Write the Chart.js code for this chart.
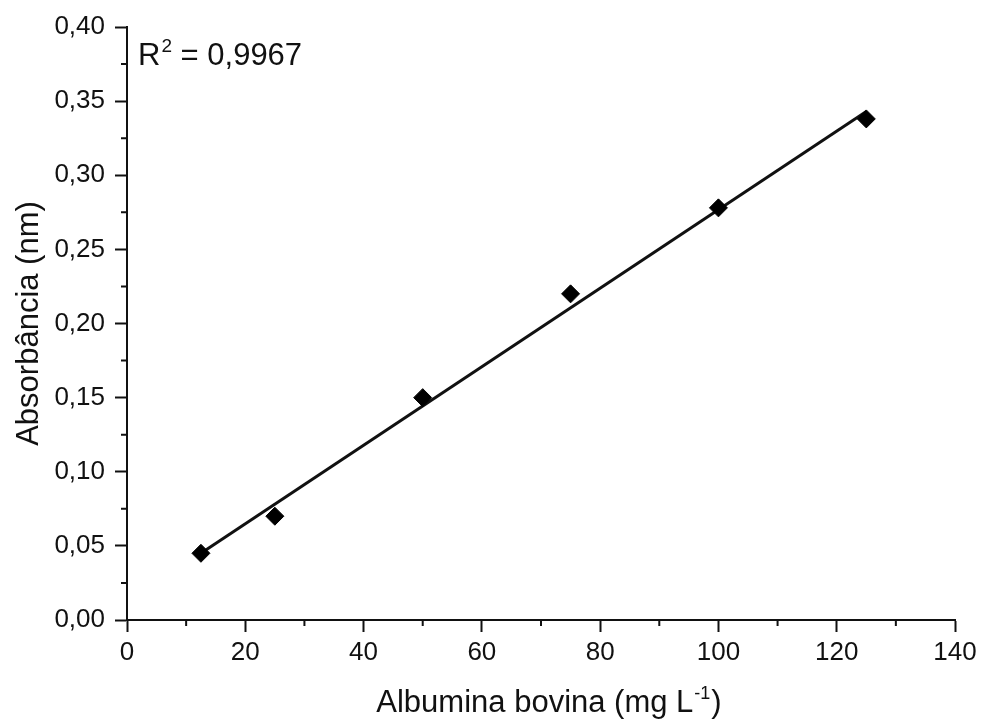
<!DOCTYPE html>
<html>
<head>
<meta charset="utf-8">
<script src="https://cdn.jsdelivr.net/npm/chart.js@4"></script>
<style>
  html, body { margin: 0; padding: 0; background: #fff; }
  #wrap { width: 983px; height: 721px; }
</style>
</head>
<body>
<div id="wrap"><canvas id="curve"></canvas></div>
<script>
// calibration points
const concentrations = [12.5, 25, 50, 75, 100, 125];
const absorbances = [0.045, 0.070, 0.150, 0.220, 0.278, 0.338];
// fitted line end points
const fitX = [12.5, 125];
const fitY = [0.045, 0.343];
const xTicks = [0, 20, 40, 60, 80, 100, 120, 140];
const yTicks = [0, 0.05, 0.10, 0.15, 0.20, 0.25, 0.30, 0.35, 0.40];
const r2Text = '0,9967';

const FONT = '"Liberation Sans", Arial, sans-serif';
const INK = '#111';

// minor ticks half way between the major ones
const minorTicks = {
  id: 'minorTicks',
  afterDraw(chart) {
    const { ctx, scales: { x, y } } = chart;
    ctx.save();
    ctx.strokeStyle = INK;
    ctx.lineWidth = 2;
    ctx.beginPath();
    for (let i = 0; i < xTicks.length - 1; i++) {
      const px = x.getPixelForValue((xTicks[i] + xTicks[i + 1]) / 2);
      ctx.moveTo(px, y.bottom);
      ctx.lineTo(px, y.bottom + 6);
    }
    for (let i = 0; i < yTicks.length - 1; i++) {
      const py = y.getPixelForValue((yTicks[i] + yTicks[i + 1]) / 2);
      ctx.moveTo(x.left, py);
      ctx.lineTo(x.left - 6, py);
    }
    ctx.stroke();
    ctx.restore();
  }
};

// text with superscripts: R^2 and the x axis title
const labels = {
  id: 'labels',
  afterDraw(chart) {
    const { ctx, chartArea: area } = chart;
    ctx.save();
    ctx.fillStyle = INK;
    ctx.textBaseline = 'alphabetic';

    // R^2 = 0,9967
    let px = area.left + 11;
    const base = 65;
    ctx.font = '31px ' + FONT;
    ctx.fillText('R', px, base);
    px += ctx.measureText('R').width + 1;
    ctx.font = '19px ' + FONT;
    ctx.fillText('2', px, base - 13);
    px += ctx.measureText('2').width;
    ctx.font = '31px ' + FONT;
    ctx.fillText(' = ' + r2Text, px, base);

    // Albumina bovina (mg L^-1)
    const partA = 'Albumina bovina (mg L';
    const sup = '-1';
    const partB = ')';
    ctx.font = '31px ' + FONT;
    const wA = ctx.measureText(partA).width;
    const wB = ctx.measureText(partB).width;
    ctx.font = '18px ' + FONT;
    const wS = ctx.measureText(sup).width;
    const total = wA + wS + 2 + wB;
    let tx = (area.left + area.right) / 2 + 8 - total / 2;
    const tb = 712;
    ctx.font = '31px ' + FONT;
    ctx.fillText(partA, tx, tb);
    tx += wA + 1;
    ctx.font = '18px ' + FONT;
    ctx.fillText(sup, tx, tb - 13);
    tx += wS + 1;
    ctx.font = '31px ' + FONT;
    ctx.fillText(partB, tx, tb);
    ctx.restore();
  }
};

new Chart(document.getElementById('curve'), {
  type: 'scatter',
  data: {
    datasets: [
      {
        label: 'fit',
        type: 'line',
        data: fitX.map((v, i) => ({ x: v, y: fitY[i] })),
        borderColor: INK,
        borderWidth: 3,
        pointRadius: 0,
        fill: false,
        order: 2
      },
      {
        label: 'Albumina',
        data: concentrations.map((v, i) => ({ x: v, y: absorbances[i] })),
        pointStyle: 'rectRot',
        pointRadius: 9,
        pointHoverRadius: 9,
        backgroundColor: '#000',
        borderColor: '#000',
        borderWidth: 1,
        order: 1
      }
    ]
  },
  options: {
    responsive: true,
    maintainAspectRatio: false,
    animation: false,
    layout: { padding: { top: 27, right: 28, left: 0, bottom: 0 } },
    plugins: {
      legend: { display: false },
      tooltip: { enabled: false }
    },
    scales: {
      x: {
        type: 'linear',
        min: 0,
        max: 140,
        afterBuildTicks: s => { s.ticks = xTicks.map(v => ({ value: v })); },
        afterFit: s => { s.height = 101; },
        grid: {
          drawOnChartArea: false,
          drawTicks: true,
          tickLength: 12,
          tickWidth: 2,
          tickColor: INK
        },
        border: { color: INK, width: 2 },
        ticks: {
          color: INK,
          font: { family: FONT, size: 26 },
          padding: 5,
          maxRotation: 0,
          callback: v => String(v)
        },
        title: { display: false }
      },
      y: {
        type: 'linear',
        min: 0,
        max: 0.4,
        afterBuildTicks: s => { s.ticks = yTicks.map(v => ({ value: v })); },
        afterFit: s => { s.width = 127; },
        grid: {
          drawOnChartArea: false,
          drawTicks: true,
          tickLength: 12,
          tickWidth: 2,
          tickColor: INK
        },
        border: { color: INK, width: 2 },
        ticks: {
          color: INK,
          font: { family: FONT, size: 26 },
          padding: 10,
          callback: v => v.toFixed(2).replace('.', ',')
        },
        title: {
          display: true,
          text: 'Absorbância (nm)',
          color: INK,
          font: { family: FONT, size: 31 },
          padding: { top: 11, bottom: 0 }
        }
      }
    }
  },
  plugins: [minorTicks, labels]
});
</script>
</body>
</html>
